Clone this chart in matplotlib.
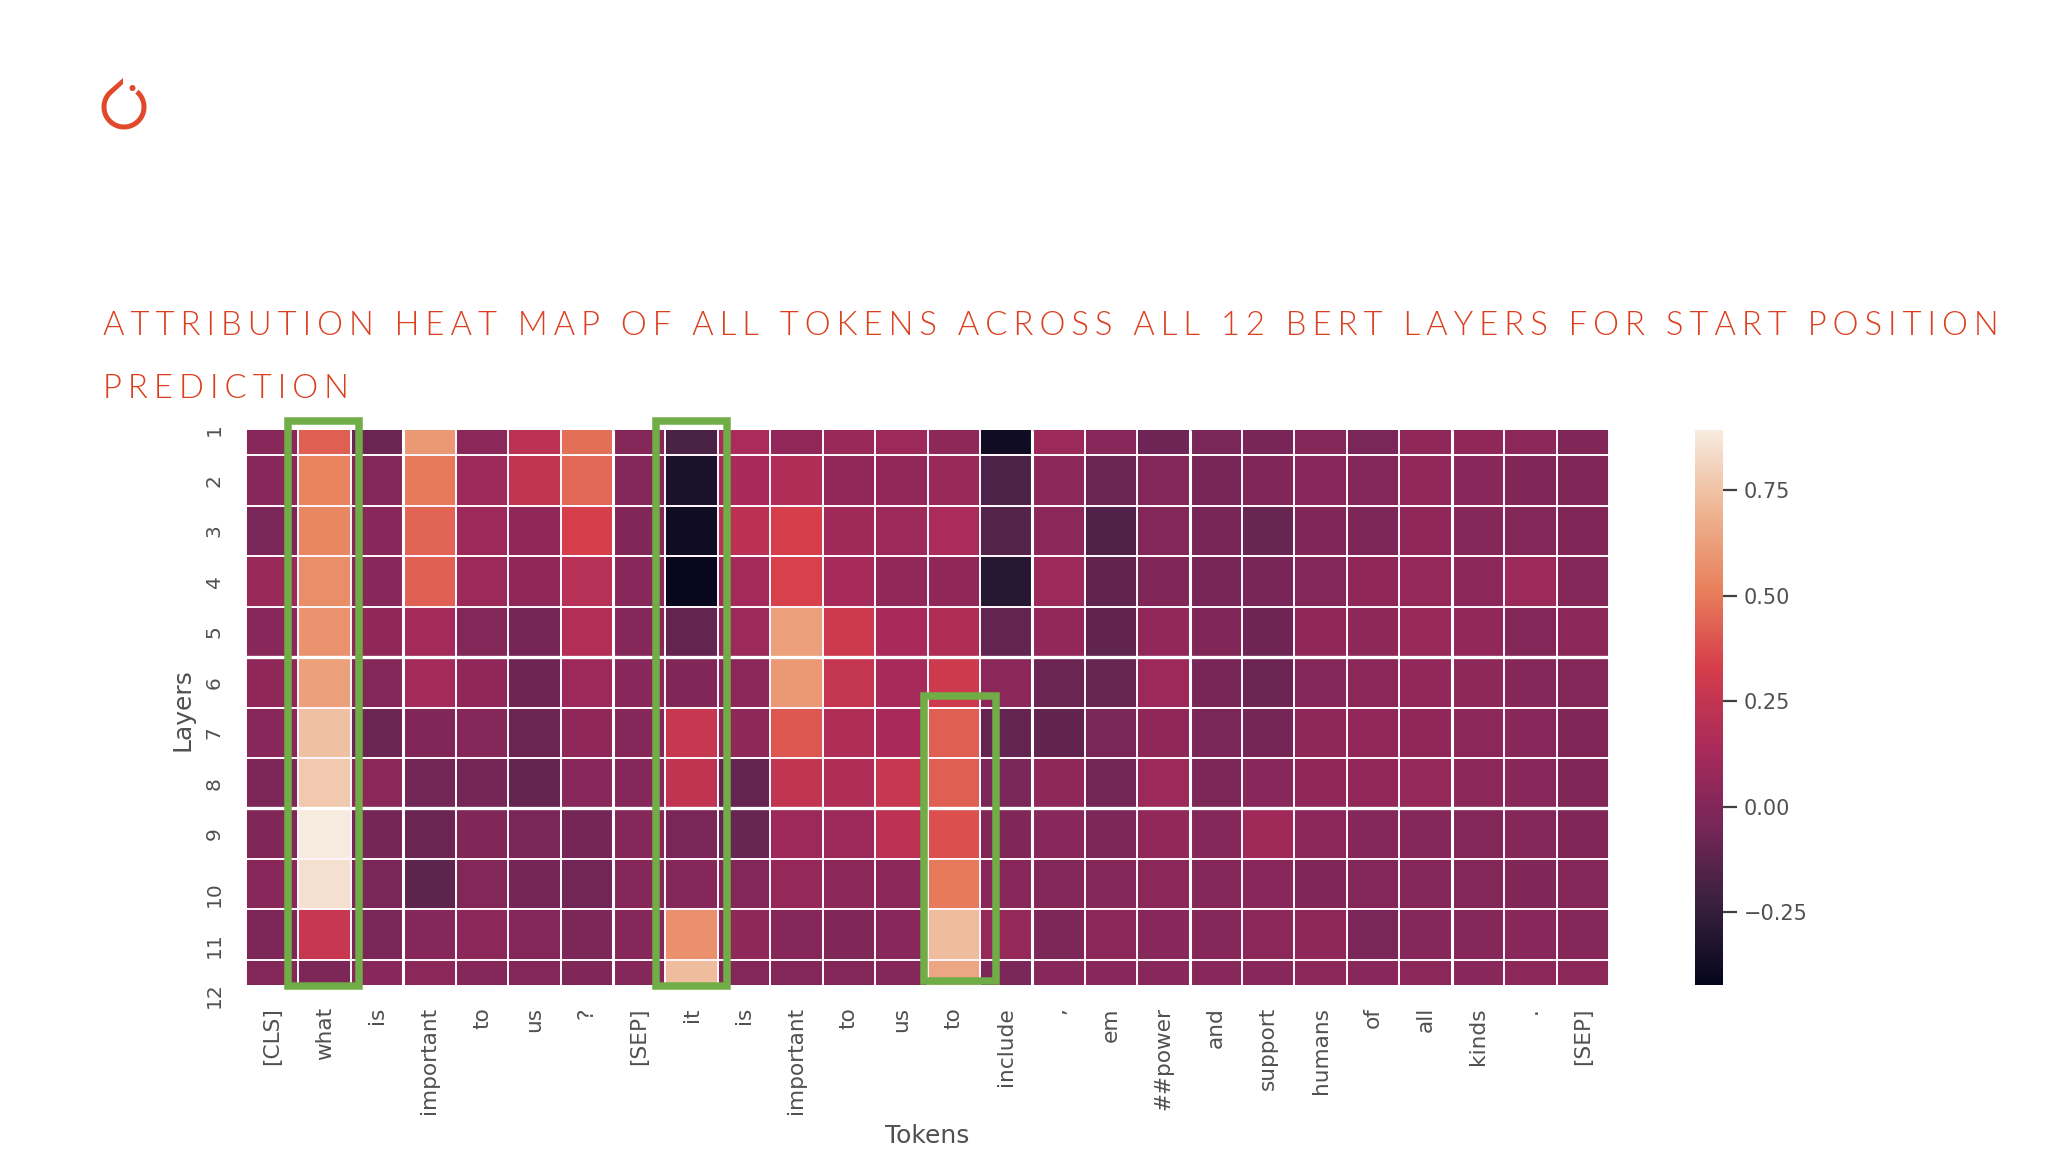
import numpy as np
import matplotlib
matplotlib.use("Agg")
import matplotlib.pyplot as plt
import matplotlib.patches as patches
from matplotlib.colors import LinearSegmentedColormap
from matplotlib.transforms import ScaledTranslation

tokens = ["[CLS]", "what", "is", "important", "to", "us", "?", "[SEP]", "it", "is",
          "important", "to", "us", "to", "include", ",", "em", "##power", "and",
          "support", "humans", "of", "all", "kinds", ".", "[SEP]"]
layers = [str(i) for i in range(1, 13)]
cbar_ticks = [-0.25, 0.0, 0.25, 0.5, 0.75]
cbar_labels = ["\u22120.25", "0.00", "0.25", "0.50", "0.75"]
title_lines = ["ATTRIBUTION HEAT MAP OF ALL TOKENS ACROSS ALL 12 BERT LAYERS FOR START POSITION",
               "PREDICTION"]

# one row per bert layer, one value per token
attributions = [
    [.02, .42, -.08, .60, .03, .22, .47, .01, -.18, .15, .06, .08, .10, .04, -.38, .09, .02, -.07, -.03, -.04, .01, -.03, .05, .05, .03, -.01],
    [.02, .53, .00, .50, .10, .25, .45, .00, -.34, .14, .17, .06, .06, .08, -.17, .03, -.08, .00, -.04, -.01, .02, .00, .06, .02, -.01, -.01],
    [-.03, .54, .02, .44, .10, .05, .33, -.01, -.38, .21, .33, .11, .10, .15, -.15, .03, -.16, .00, -.04, -.09, -.01, -.02, .05, .01, .00, -.01],
    [.08, .56, .02, .43, .09, .05, .20, .02, -.41, .12, .34, .13, .06, .05, -.30, .09, -.11, -.01, -.04, -.04, .00, .05, .07, .03, .09, .01],
    [.02, .58, .05, .12, .00, -.05, .18, .01, -.10, .09, .63, .30, .14, .17, -.10, .06, -.11, .06, -.01, -.07, .05, .04, .08, .06, .00, .03],
    [.05, .63, .00, .12, .05, -.07, .10, .02, -.01, .03, .60, .26, .13, .30, .03, -.08, -.09, .10, -.04, -.08, .01, .03, .06, .04, .01, .00],
    [.02, .74, -.08, -.01, .01, -.08, .05, .01, .27, .04, .40, .17, .14, .42, -.10, -.11, -.03, .05, -.03, -.05, .04, .06, .05, .03, .02, -.01],
    [-.02, .77, .03, -.06, -.05, -.10, .02, .01, .24, -.10, .25, .17, .27, .42, -.03, .04, -.06, .10, -.02, .02, .05, .06, .07, .03, .02, -.01],
    [-.01, .89, -.05, -.08, -.01, -.03, -.05, .01, -.03, -.09, .10, .10, .22, .38, -.01, .02, -.02, .06, .01, .11, .03, .01, .01, .00, .01, -.01],
    [.02, .85, -.03, -.12, .00, -.05, -.06, .01, .01, .00, .07, .03, .03, .50, .02, .00, .01, .03, .01, .02, -.01, .00, .01, .00, -.01, .01],
    [-.02, .27, -.03, .01, .03, .00, -.02, .01, .57, .04, .01, -.01, .02, .73, .07, -.02, .03, .02, .01, .03, .04, -.03, .01, .01, .02, .01],
    [.00, -.02, .02, .03, .01, .00, -.01, .01, .73, .00, .00, .00, .01, .65, -.03, .02, .02, .02, .02, .02, .03, .02, .03, .02, .03, .03],
]

W, H = 2048, 1152
orange = "#E2492B"
title_orange = "#DC3F1E"
green = "#70AD47"
textgrey = "#505050"

# rocket anchors, a bit muted to match the compressed screenshot
rocket = LinearSegmentedColormap.from_list(
    "rocket", ["#05061C", "#38203F", "#762658", "#A92A5A", "#D53D4A", "#E9805C", "#EEB592", "#F7EBDF"])


def axes_px(fig, x0, y0, x1, y1):
    """axes from pixel box, y counted from the top"""
    return fig.add_axes([x0 / W, 1 - y1 / H, (x1 - x0) / W, (y1 - y0) / H])


def spaced(text):
    # no letter spacing in matplotlib, hair spaces do the job
    return "\u200a\u200a\u200a".join(text)


fig = plt.figure(figsize=(W / 100, H / 100), dpi=100, facecolor="white")

# heatmap, first and last row are cut in half like in the original
ax = axes_px(fig, 246, 430, 1609, 985)
data = np.array(attributions)
mesh = ax.pcolormesh(data, cmap=rocket, vmin=-0.422, vmax=0.892, edgecolors="#FFF4FA", linewidth=1.1)
ax.set_ylim(11.5, 0.5)
ax.set_xlim(0, len(tokens))
for s in ax.spines.values():
    s.set_visible(False)
# some grid lines came out wider in the screenshot
ax.hlines([5, 8], 0, len(tokens), color="white", lw=2.4)
ax.vlines([3, 7, 15, 18, 23], 0.5, 11.5, color="white", lw=2.2)

ax.set_xticks(np.arange(len(tokens)) + 0.5)
ax.set_xticklabels(tokens, rotation=90, fontsize=15.6, color=textgrey, family="DejaVu Sans")
ax.tick_params(axis="x", length=0, pad=16)
ax.set_yticks(np.arange(len(layers)) + 0.5)
ax.set_yticklabels(layers, rotation=90, fontsize=14.5, color=textgrey, family="DejaVu Sans")
ax.tick_params(axis="y", length=0, pad=16)
for lab in ax.get_yticklabels():
    if len(lab.get_text()) > 1:
        lab.set_va("top")
        lab.set_transform(lab.get_transform() + ScaledTranslation(0, 2 / 72, fig.dpi_scale_trans))
    else:
        lab.set_va("center")
ax.set_xlabel("Tokens", fontsize=18, color=textgrey)
ax.xaxis.set_label_coords(0.4995, -0.2505)
ax.set_ylabel("Layers", fontsize=18, color=textgrey)
ax.yaxis.set_label_coords(-0.0375, 0.497)

# colorbar
cax = axes_px(fig, 1695, 430, 1723, 985)
cbar = fig.colorbar(mesh, cax=cax)
cbar.outline.set_visible(False)
cbar.set_ticks(cbar_ticks)
cbar.set_ticklabels(cbar_labels)
cbar.ax.tick_params(length=10, width=1.6, color="#404040", labelcolor=textgrey, labelsize=15, pad=5)

# slide layer on top: logo, title, green boxes, all in pixels
top = fig.add_axes([0, 0, 1, 1], facecolor="none")
top.set_xlim(0, W)
top.set_ylim(H, 0)
top.axis("off")

theta = np.radians(np.linspace(50, -225, 80))
cx, cy = 124, 107
outer = np.c_[cx + 22.5 * np.cos(theta), cy - 22.5 * np.sin(theta)]
inner = np.c_[cx + 17.5 * np.cos(theta), cy - 17.5 * np.sin(theta)]
flame = np.vstack([outer, [[123, 78], [123, 84]], inner[::-1]])
top.add_patch(patches.Polygon(flame, closed=True, fc=orange, ec="none"))
top.add_patch(patches.Circle((132.5, 88), 3, fc=orange, ec="none"))

for line, y in zip(title_lines, [335, 398]):
    top.text(103, y, spaced(line), fontsize=23.7, color=title_orange, ha="left", va="baseline",
             family=["Lato", "DejaVu Sans"], fontweight=300)

for x0, y0, x1, y1 in [(288, 421, 359, 986), (656, 421, 727, 986), (924, 696, 996, 981)]:
    top.add_patch(patches.Rectangle((x0, y0), x1 - x0, y1 - y0, fill=False, ec=green, lw=5.4, joinstyle="miter"))

fig.savefig("out.png", dpi=100)
